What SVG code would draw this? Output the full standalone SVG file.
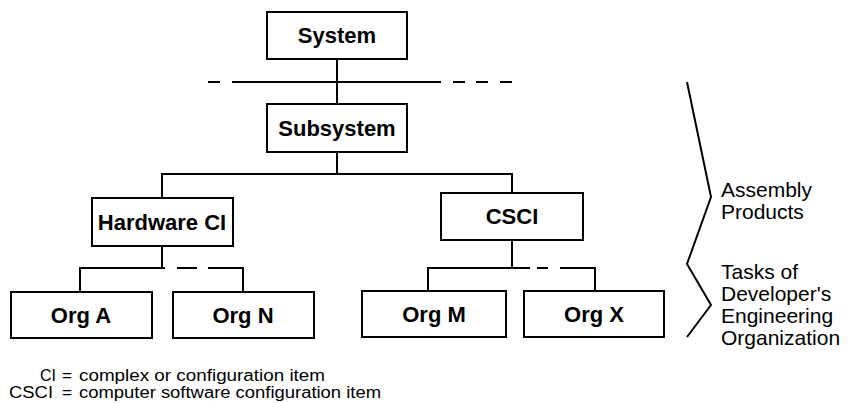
<svg xmlns="http://www.w3.org/2000/svg" width="852" height="403" viewBox="0 0 852 403">
<style>
.box{fill:#fff;stroke:#000;stroke-width:2}
.lbl{font-family:"Liberation Sans",Arial,sans-serif;font-weight:bold;font-size:22px;text-anchor:middle;fill:#000}
.ln{stroke:#000;stroke-width:2;fill:none}
.side{font-family:"Liberation Sans",Arial,sans-serif;font-size:21px;fill:#000}
.leg{font-family:"Liberation Sans",Arial,sans-serif;font-size:16px;fill:#000}
</style>
<rect width="852" height="403" fill="#fff"/>
<g id="connectors">
<line class="ln" x1="337" y1="59" x2="337" y2="104"/>
<line class="ln" x1="208" y1="82" x2="220" y2="82"/>
<line class="ln" x1="232" y1="82" x2="441" y2="82"/>
<line class="ln" x1="453" y1="82" x2="465" y2="82"/>
<line class="ln" x1="476" y1="82" x2="488" y2="82"/>
<line class="ln" x1="500" y1="82" x2="512" y2="82"/>
<polyline class="ln" points="162,198 162,174 512,174 512,193"/>
<line class="ln" x1="337" y1="152" x2="337" y2="174"/>
<line class="ln" x1="162" y1="246" x2="162" y2="268"/>
<polyline class="ln" points="80,292 80,268 165,268"/>
<line class="ln" x1="177" y1="268" x2="197" y2="268"/>
<polyline class="ln" points="208,268 243,268 243,292"/>
<line class="ln" x1="512" y1="240" x2="512" y2="268"/>
<polyline class="ln" points="428,291 428,268 530,268"/>
<line class="ln" x1="537" y1="268" x2="548" y2="268"/>
<polyline class="ln" points="560,268 595,268 595,291"/>
<polyline class="ln" points="687,82 711,197 687,264 711,305 687,337"/>
</g>
<g id="system"><rect class="box" x="267" y="12" width="140" height="47"/><text class="lbl" x="337" y="43">System</text></g>
<g id="subsystem"><rect class="box" x="267" y="104" width="140" height="48"/><text class="lbl" x="337" y="136">Subsystem</text></g>
<g id="hardware-ci"><rect class="box" x="92" y="198" width="141" height="48"/><text class="lbl" x="162" y="230">Hardware CI</text></g>
<g id="csci"><rect class="box" x="441" y="193" width="142" height="47"/><text class="lbl" x="512" y="224">CSCI</text></g>
<g id="org-a"><rect class="box" x="11" y="292" width="141" height="46"/><text class="lbl" x="81" y="323">Org A</text></g>
<g id="org-n"><rect class="box" x="173" y="292" width="141" height="46"/><text class="lbl" x="243" y="323">Org N</text></g>
<g id="org-m"><rect class="box" x="362" y="291" width="144" height="46"/><text class="lbl" x="434" y="322">Org M</text></g>
<g id="org-x"><rect class="box" x="524" y="291" width="140" height="46"/><text class="lbl" x="594" y="322">Org X</text></g>
<g id="side-labels">
<text class="side" x="721" y="197">Assembly</text>
<text class="side" x="721" y="219">Products</text>
<text class="side" x="721" y="279">Tasks of</text>
<text class="side" x="721" y="301">Developer's</text>
<text class="side" x="721" y="323">Engineering</text>
<text class="side" x="721" y="345">Organization</text>
</g>
<g id="legend">
<text class="leg" x="40" y="381" textLength="16" lengthAdjust="spacingAndGlyphs">CI</text>
<text class="leg" x="62" y="381" textLength="10" lengthAdjust="spacingAndGlyphs">=</text>
<text class="leg" x="79" y="381" textLength="246" lengthAdjust="spacingAndGlyphs">complex or configuration item</text>
<text class="leg" x="9" y="398" textLength="44" lengthAdjust="spacingAndGlyphs">CSCI</text>
<text class="leg" x="62" y="398" textLength="10" lengthAdjust="spacingAndGlyphs">=</text>
<text class="leg" x="79" y="398" textLength="302" lengthAdjust="spacingAndGlyphs">computer software configuration item</text>
</g>
</svg>
